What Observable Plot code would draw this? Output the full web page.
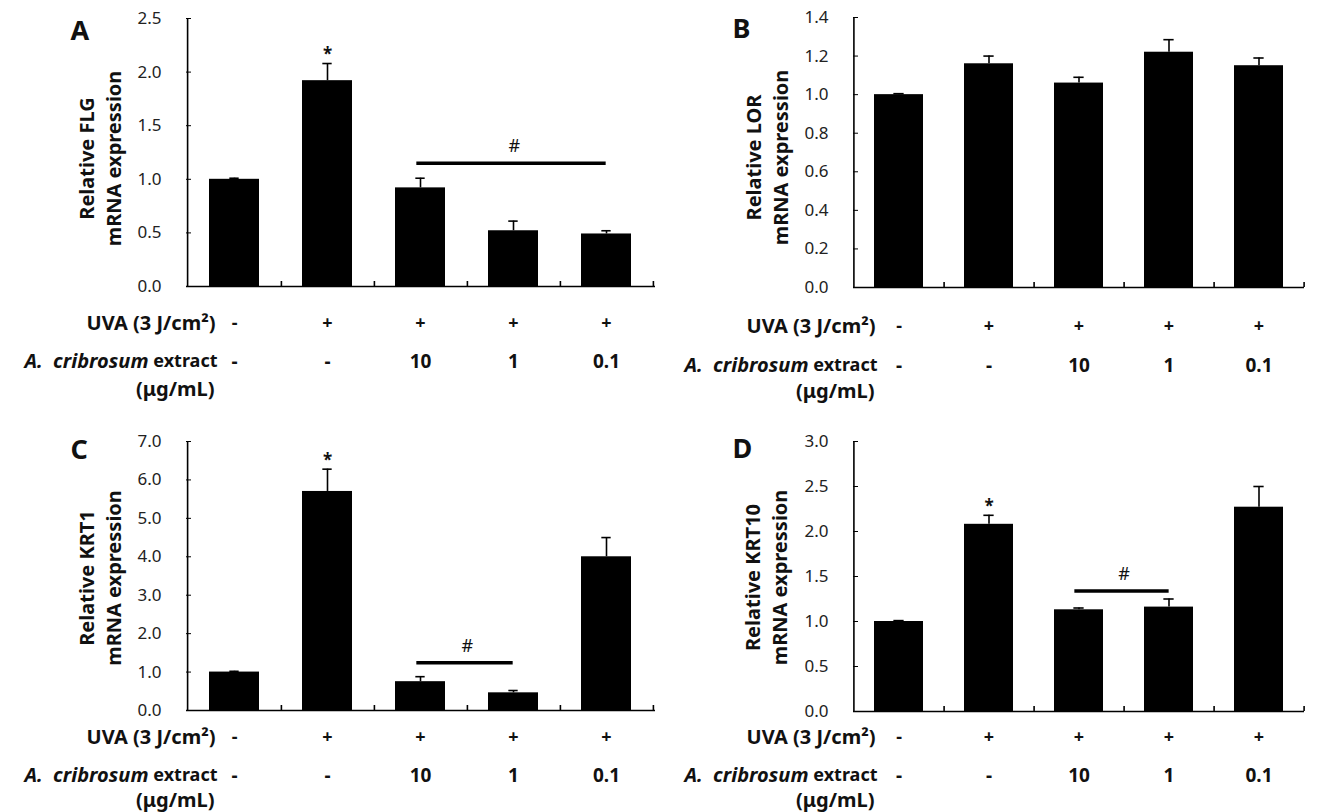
<!DOCTYPE html>
<html><head><meta charset="utf-8">
<script src="https://cdn.jsdelivr.net/npm/d3@7"></script>
<script src="https://cdn.jsdelivr.net/npm/@observablehq/plot@0.6"></script>
<style>
body{margin:0;background:#fff;}
#root{position:relative;width:1328px;height:812px;overflow:hidden;background:#fff;}
.panel{position:absolute;}
.panel svg{overflow:visible;}
</style></head><body><div id="root"></div>
<script>
// ---- data ----
const groups = ["Control", "UVA", "UVA+10", "UVA+1", "UVA+0.1"];
const uvaLabels = ["-", "+", "+", "+", "+"];
const extractLabels = ["-", "-", "10", "1", "0.1"];

const flgMean = [1.00, 1.92, 0.92, 0.52, 0.49];
const flgErr  = [0.01, 0.16, 0.09, 0.09, 0.03];
const lorMean = [1.00, 1.16, 1.06, 1.22, 1.15];
const lorErr  = [0.005, 0.04, 0.03, 0.065, 0.04];
const krt1Mean = [1.00, 5.70, 0.75, 0.46, 4.00];
const krt1Err  = [0.02, 0.58, 0.13, 0.06, 0.50];
const krt10Mean = [1.00, 2.08, 1.13, 1.16, 2.27];
const krt10Err  = [0.01, 0.10, 0.02, 0.09, 0.23];

const panelLetters = ["A", "B", "C", "D"];
const yTitles = ["Relative FLG\nmRNA expression", "Relative LOR\nmRNA expression",
                 "Relative KRT1\nmRNA expression", "Relative KRT10\nmRNA expression"];
const yMaxes = [2.5, 1.4, 7.0, 3.0];
const ySteps = [0.5, 0.2, 1.0, 0.5];
// significance bars: [from group, to group, y]
const sigBars = [["UVA+10", "UVA+0.1", 1.15], null, ["UVA+10", "UVA+1", 1.24], ["UVA+10", "UVA+1", 1.34]];
const starGroup = [1, null, 1, 1];

const FONT = "'Noto Sans', 'Open Sans', sans-serif";

function panel(idx, mean, err, layout) {
  const {left, top, W, H, mL, mR, mT, mB, r1, r2, r3, letterDx, letterDy, titleDx, titleDy} = layout;
  const yMax = yMaxes[idx], yStep = ySteps[idx];
  const data = groups.map((g, i) => ({g, v: mean[i], hi: mean[i] + err[i], uva: uvaLabels[i], ext: extractLabels[i]}));
  const n = groups.length;
  const step = (W - mL - mR) / n;
  const pad = 0.46;
  const bw = step * (1 - pad);
  const capInset = (bw - 10) / 2;
  const ticks = d3.range(0, yMax + yStep / 2, yStep);
  const sig = sigBars[idx];
  const lw = 1.6;
  const ink = "#111";
  const marks = [
    Plot.barY(data, {x: "g", y: "v", fill: "#000"}),
    Plot.ruleX(data, {x: "g", y1: "v", y2: "hi", stroke: "#000", strokeWidth: lw}),
    Plot.tickY(data, {x: "g", y: "hi", stroke: "#000", strokeWidth: lw, insetLeft: capInset, insetRight: capInset}),
    Plot.ruleY([0], {stroke: "#000", strokeWidth: lw}),
    Plot.ruleX([groups[0]], {x: d => d, dx: -step / 2, y1: 0, y2: yMax, stroke: "#000", strokeWidth: lw}),
    Plot.ruleX(groups, {x: d => d, dx: step / 2, y1: 0, y2: 0, insetTop: -5, stroke: "#000", strokeWidth: lw}),
    Plot.axisY({ticks, tickSize: -5, tickPadding: 30, tickFormat: d => d.toFixed(1), fontSize: 17, fill: "#222", label: null}),
    Plot.text([yTitles[idx]], {frameAnchor: "left", textAnchor: "middle", lineAnchor: "middle", rotate: -90,
      dx: titleDx, dy: titleDy, fontSize: 20, fontWeight: 700, lineHeight: 1.35, fill: ink}),
    Plot.text([panelLetters[idx]], {frameAnchor: "top-left", textAnchor: "start", lineAnchor: "middle",
      dx: letterDx, dy: letterDy, fontSize: 27, fontWeight: 700, fill: ink}),
    // row labels
    Plot.text(data, {x: "g", text: "uva", frameAnchor: "bottom", lineAnchor: "middle", dy: r1, fontSize: 18, fontWeight: 700, fill: ink}),
    Plot.text(data, {x: "g", text: "ext", frameAnchor: "bottom", lineAnchor: "middle", dy: r2, fontSize: 19, fontWeight: 700, fill: ink}),
    Plot.text(["UVA (3 J/cm²)"], {frameAnchor: "bottom-left", textAnchor: "end", lineAnchor: "middle", dx: 215 - mL, dy: r1, fontSize: 20, fontWeight: 700, fill: ink}),
    Plot.text(["A.\u00a0\u00a0cribrosum"], {frameAnchor: "bottom-left", textAnchor: "end", lineAnchor: "middle", dx: 148 - mL, dy: r2, fontSize: 20, fontWeight: 700, fontStyle: "italic", fill: ink}),
    Plot.text(["extract"], {frameAnchor: "bottom-left", textAnchor: "end", lineAnchor: "middle", dx: 217 - mL, dy: r2, fontSize: 18, fontWeight: 700, fill: ink}),
    Plot.text(["(μg/mL)"], {frameAnchor: "bottom-left", textAnchor: "end", lineAnchor: "middle", dx: 214 - mL, dy: r3, fontSize: 20, fontWeight: 700, fill: ink})
  ];
  if (starGroup[idx] !== null) {
    marks.push(Plot.text([data[starGroup[idx]]], {x: "g", y: "hi", text: () => "*", dy: -9, fontSize: 17, fontWeight: 700, lineAnchor: "middle", fill: ink}));
  }
  if (sig) {
    const [a, b, y] = sig;
    const span = groups.indexOf(b) - groups.indexOf(a);
    marks.push(Plot.ruleY([{a, b, y}], {x1: "a", x2: "b", y: "y", stroke: "#000", strokeWidth: 3.5,
      insetLeft: bw / 2 - 4, insetRight: bw / 2}));
    marks.push(Plot.text([{a, y}], {x: "a", y: "y", text: () => "#", dx: span * step / 2, dy: -17, fontSize: 18, lineAnchor: "middle", fill: ink}));
  }
  const svg = Plot.plot({
    width: W, height: H,
    marginLeft: mL, marginRight: mR, marginTop: mT, marginBottom: mB,
    style: {fontFamily: FONT, fontSize: "16px", background: "transparent", overflow: "visible"},
    x: {domain: groups, paddingInner: pad, paddingOuter: pad / 2, axis: null},
    y: {domain: [0, yMax], axis: null},
    marks
  });
  const div = document.createElement("div");
  div.className = "panel";
  div.style.left = left + "px";
  div.style.top = top + "px";
  div.appendChild(svg);
  document.getElementById("root").appendChild(div);
}

panel(0, flgMean, flgErr, {left: 0, top: 0, W: 664, H: 406, mL: 186, mR: 9, mT: 18, mB: 120,
  r1: 37, r2: 75, r3: 103, letterDx: -116, letterDy: 13, titleDx: -88, titleDy: 6});
panel(1, lorMean, lorErr, {left: 660, top: 0, W: 668, H: 406, mL: 193, mR: 24, mT: 17, mB: 119,
  r1: 39, r2: 78, r3: 104, letterDx: -121, letterDy: 12, titleDx: -88, titleDy: 5});
panel(2, krt1Mean, krt1Err, {left: 0, top: 406, W: 664, H: 406, mL: 186, mR: 9, mT: 35, mB: 102,
  r1: 27, r2: 65, r3: 90, letterDx: -116, letterDy: 9, titleDx: -88, titleDy: 2});
panel(3, krt10Mean, krt10Err, {left: 660, top: 406, W: 668, H: 406, mL: 193, mR: 24, mT: 35, mB: 101,
  r1: 26, r2: 64, r3: 89, letterDx: -121, letterDy: 8, titleDx: -89, titleDy: 1});
</script></body></html>
